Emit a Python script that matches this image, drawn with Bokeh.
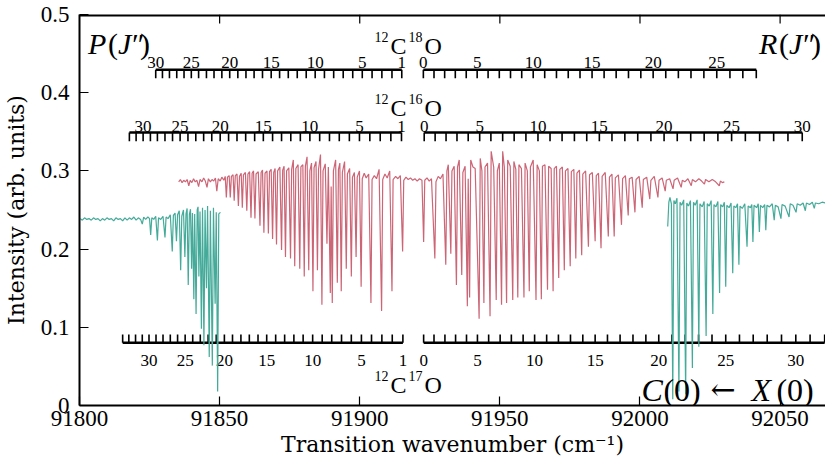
from bokeh.plotting import figure
from bokeh.models import FixedTicker, NumeralTickFormatter, Label
from bokeh.core.properties import value
from bokeh.embed import file_html
from bokeh.resources import INLINE

# ---------------- data ----------------
x_ticks = [91800, 91850, 91900, 91950, 92000, 92050]
y_ticks = [0, 0.1, 0.2, 0.3, 0.4, 0.5]
x_lo, x_hi = 91800, 92066.2
y_lo, y_hi = 0, 0.5

# red spectrum (12C16O / 12C18O sample): (wavenumber, intensity) vertices
red_p_side = [
    (91835.4, 0.286), (91836.0, 0.289), (91836.6, 0.285), (91837.2, 0.288), (91837.8, 0.286), (91838.4, 0.289),
    (91839.0, 0.281), (91839.5, 0.288), (91840.1, 0.285), (91840.7, 0.290), (91841.3, 0.286), (91841.9, 0.288),
    (91842.5, 0.280), (91843.0, 0.289), (91843.7, 0.286), (91844.3, 0.291), (91844.9, 0.287),
    (91845.5, 0.279), (91846.0, 0.290), (91846.7, 0.286), (91847.3, 0.289), (91847.9, 0.287), (91848.5, 0.291),
    (91849.0, 0.274), (91849.5, 0.290), (91850.2, 0.287), (91850.8, 0.292), (91851.5, 0.288), (91852.0, 0.293),
    (91852.4, 0.266), (91852.8, 0.292), (91853.4, 0.294),
    (91853.8, 0.266), (91854.2, 0.293), (91854.8, 0.295),
    (91855.2, 0.262), (91855.6, 0.294), (91856.2, 0.296),
    (91856.7, 0.255), (91857.1, 0.293), (91857.7, 0.297),
    (91858.1, 0.253), (91858.5, 0.295), (91859.2, 0.298),
    (91859.7, 0.249), (91860.1, 0.296), (91860.7, 0.299),
    (91861.2, 0.240), (91861.6, 0.297), (91862.1, 0.300),
    (91862.6, 0.239), (91863.0, 0.296), (91863.8, 0.299),
    (91864.4, 0.230), (91864.8, 0.298), (91865.3, 0.301),
    (91865.8, 0.221), (91866.2, 0.297), (91866.9, 0.300),
    (91867.4, 0.220), (91867.8, 0.299), (91868.4, 0.302),
    (91868.9, 0.213), (91869.3, 0.298), (91869.8, 0.303),
    (91870.3, 0.206), (91870.7, 0.300), (91871.5, 0.305),
    (91872.1, 0.199), (91872.5, 0.301), (91873.0, 0.306),
    (91873.5, 0.190), (91873.9, 0.300), (91874.7, 0.304),
    (91875.3, 0.188), (91875.7, 0.302), (91876.3, 0.314),
    (91876.8, 0.178), (91877.2, 0.303), (91878.0, 0.308),
    (91878.6, 0.175), (91879.0, 0.305), (91879.7, 0.308),
    (91880.2, 0.165), (91880.6, 0.306), (91881.2, 0.318),
    (91881.8, 0.173), (91882.2, 0.300), (91882.8, 0.310),
    (91883.3, 0.146), (91883.7, 0.304), (91884.4, 0.312),
    (91884.9, 0.173), (91885.3, 0.302), (91886.0, 0.321),
    (91886.5, 0.129), (91886.9, 0.300), (91887.7, 0.309),
    (91888.3, 0.207), (91888.8, 0.305),
    (91889.5, 0.144), (91889.8, 0.280),
    (91890.2, 0.131), (91890.6, 0.300), (91891.4, 0.314),
    (91892.0, 0.157), (91892.4, 0.302), (91892.9, 0.310),
    (91893.4, 0.146), (91893.8, 0.298), (91894.6, 0.312),
    (91895.2, 0.175), (91895.6, 0.296), (91896.4, 0.303),
    (91897.0, 0.165), (91897.4, 0.292), (91898.1, 0.298),
    (91898.7, 0.190), (91899.1, 0.292), (91899.9, 0.300),
    (91900.5, 0.152), (91900.9, 0.290), (91901.6, 0.297), (91902.3, 0.291), (91903.2, 0.296),
    (91904.0, 0.131), (91904.4, 0.289), (91905.2, 0.294), (91906.0, 0.290), (91906.9, 0.302),
    (91907.8, 0.121), (91908.2, 0.289), (91909.0, 0.296), (91909.8, 0.291), (91910.7, 0.300),
    (91911.5, 0.146), (91911.9, 0.289), (91912.8, 0.293), (91913.6, 0.290), (91914.5, 0.294),
    (91915.3, 0.197), (91915.7, 0.288), (91916.5, 0.292), (91917.3, 0.289), (91918.1, 0.291),
    (91918.9, 0.288), (91919.7, 0.290), (91920.5, 0.287), (91921.3, 0.290), (91922.2, 0.288),
]
red_r_side = [
    (91922.8, 0.209), (91923.2, 0.288), (91924.0, 0.291), (91924.8, 0.287), (91925.6, 0.290),
    (91926.8, 0.188), (91927.2, 0.286), (91928.0, 0.293), (91928.8, 0.290), (91929.7, 0.296),
    (91930.7, 0.180), (91931.1, 0.300), (91931.6, 0.308),
    (91932.5, 0.194), (91932.9, 0.300), (91933.7, 0.306),
    (91934.5, 0.154), (91934.9, 0.305), (91935.5, 0.314),
    (91936.4, 0.167), (91936.8, 0.298), (91937.6, 0.306),
    (91938.4, 0.127), (91938.7, 0.290),
    (91939.2, 0.138), (91939.6, 0.314), (91940.4, 0.305), (91941.2, 0.303),
    (91942.6, 0.111), (91943.0, 0.316), (91943.6, 0.300),
    (91944.3, 0.131), (91944.7, 0.305), (91945.6, 0.310),
    (91946.5, 0.114), (91946.9, 0.325), (91947.8, 0.305),
    (91948.7, 0.135), (91949.1, 0.300), (91949.8, 0.310),
    (91950.6, 0.129), (91951.0, 0.325), (91951.6, 0.305),
    (91952.4, 0.131), (91952.8, 0.314), (91953.7, 0.306),
    (91954.6, 0.135), (91955.0, 0.312), (91955.7, 0.302),
    (91956.4, 0.138), (91956.8, 0.308), (91957.7, 0.303),
    (91958.6, 0.138), (91959.0, 0.310), (91959.8, 0.300),
    (91960.5, 0.146), (91960.9, 0.305), (91961.9, 0.314),
    (91962.9, 0.135), (91963.3, 0.308), (91964.1, 0.300),
    (91964.8, 0.136), (91965.2, 0.306), (91966.1, 0.308),
    (91967.0, 0.148), (91967.4, 0.306), (91968.3, 0.303),
    (91969.0, 0.146), (91969.4, 0.303), (91970.2, 0.306),
    (91971.0, 0.163), (91971.4, 0.302), (91972.3, 0.305),
    (91973.0, 0.173), (91973.4, 0.300), (91974.3, 0.303),
    (91975.1, 0.178), (91975.5, 0.299), (91976.4, 0.302),
    (91977.1, 0.188), (91977.5, 0.297), (91978.4, 0.301),
    (91979.2, 0.192), (91979.6, 0.296), (91980.6, 0.300),
    (91981.6, 0.203), (91982.0, 0.295), (91983.0, 0.298),
    (91984.0, 0.210), (91984.4, 0.294), (91985.2, 0.297),
    (91986.1, 0.201), (91986.5, 0.293), (91987.6, 0.298),
    (91988.7, 0.216), (91989.1, 0.292), (91990.0, 0.296),
    (91990.8, 0.216), (91991.2, 0.291), (91992.3, 0.295),
    (91993.4, 0.231), (91993.8, 0.290), (91994.8, 0.294),
    (91995.8, 0.243), (91996.2, 0.290), (91997.2, 0.292),
    (91998.2, 0.247), (91998.6, 0.289), (91999.7, 0.293),
    (92000.8, 0.253), (92001.2, 0.289), (92002.4, 0.292),
    (92003.5, 0.264), (92003.9, 0.288), (92005.1, 0.293),
    (92006.4, 0.266), (92006.8, 0.288), (92007.9, 0.291),
    (92009.0, 0.274), (92009.4, 0.288), (92010.6, 0.290),
    (92011.8, 0.277), (92012.2, 0.288), (92013.4, 0.291),
    (92014.7, 0.279), (92015.1, 0.288), (92016.0, 0.286), (92017.1, 0.290),
    (92018.3, 0.281), (92018.7, 0.289), (92019.8, 0.286), (92021.0, 0.290), (92022.0, 0.287),
    (92023.0, 0.283), (92023.4, 0.289), (92024.6, 0.286), (92025.8, 0.289), (92027.0, 0.286),
    (92028.3, 0.281), (92028.7, 0.287), (92029.4, 0.285), (92030.1, 0.286),
]

# green spectrum (12C17O sample)
green_p_side = [
    (91800.3, 0.239), (91801.0, 0.237), (91801.8, 0.240), (91802.6, 0.238), (91803.4, 0.239), (91804.2, 0.237),
    (91805.0, 0.240), (91805.8, 0.238), (91806.6, 0.239), (91807.4, 0.236), (91808.2, 0.239), (91809.0, 0.237),
    (91809.8, 0.240), (91810.6, 0.238), (91811.4, 0.239), (91812.2, 0.236), (91813.0, 0.240), (91813.8, 0.238),
    (91814.6, 0.239), (91815.4, 0.236), (91816.2, 0.240), (91817.0, 0.237), (91817.8, 0.240), (91818.6, 0.238),
    (91819.4, 0.241), (91820.2, 0.237), (91821.0, 0.240), (91821.8, 0.238), (91822.4, 0.232), (91822.9, 0.241),
    (91823.6, 0.238), (91824.4, 0.241), (91825.0, 0.239),
    (91825.4, 0.218), (91825.8, 0.240), (91826.5, 0.238), (91827.2, 0.242),
    (91827.8, 0.211), (91828.2, 0.240), (91829.0, 0.238), (91829.8, 0.242),
    (91830.5, 0.215), (91830.9, 0.241), (91831.6, 0.239), (91832.4, 0.244),
    (91833.1, 0.197), (91833.5, 0.243), (91834.1, 0.246),
    (91834.6, 0.210), (91835.0, 0.244), (91835.6, 0.249),
    (91836.1, 0.173), (91836.5, 0.242), (91837.1, 0.250),
    (91837.6, 0.190), (91838.0, 0.245), (91838.4, 0.252),
    (91838.8, 0.154), (91839.2, 0.244), (91839.6, 0.251),
    (91840.0, 0.175), (91840.3, 0.246),
    (91840.8, 0.136), (91841.1, 0.245),
    (91841.6, 0.117), (91842.0, 0.250), (91842.3, 0.254),
    (91842.6, 0.165), (91843.0, 0.248),
    (91843.5, 0.098), (91843.9, 0.253),
    (91844.4, 0.077), (91844.8, 0.250),
    (91845.3, 0.150), (91845.7, 0.255),
    (91846.3, 0.062), (91846.7, 0.249),
    (91847.4, 0.051), (91847.8, 0.253),
    (91848.4, 0.130), (91848.8, 0.247),
    (91849.3, 0.018), (91849.7, 0.245), (91850.3, 0.247),
]
green_r_side = [
    (92009.9, 0.229), (92010.3, 0.260), (92010.7, 0.266), (92011.2, 0.258),
    (92011.7, 0.008), (92012.1, 0.262), (92012.6, 0.258), (92013.2, 0.265),
    (92013.9, 0.018), (92014.3, 0.260), (92014.9, 0.256), (92015.6, 0.263),
    (92016.3, 0.014), (92016.7, 0.259), (92017.3, 0.255), (92018.0, 0.262),
    (92018.7, 0.048), (92019.1, 0.260), (92019.7, 0.256), (92020.4, 0.263),
    (92021.0, 0.075), (92021.4, 0.258), (92022.2, 0.254), (92022.9, 0.261),
    (92023.6, 0.089), (92024.0, 0.258), (92024.7, 0.255), (92025.4, 0.262),
    (92026.0, 0.117), (92026.4, 0.257), (92027.1, 0.254), (92027.8, 0.261),
    (92028.4, 0.144), (92028.8, 0.257), (92029.5, 0.254), (92030.1, 0.260),
    (92030.6, 0.152), (92031.0, 0.256), (92031.8, 0.253), (92032.5, 0.259),
    (92033.1, 0.169), (92033.5, 0.255), (92034.2, 0.253), (92034.8, 0.258),
    (92035.3, 0.180), (92035.7, 0.255), (92036.5, 0.252), (92037.4, 0.258),
    (92038.2, 0.203), (92038.6, 0.255), (92039.4, 0.253), (92039.9, 0.257),
    (92040.3, 0.209), (92040.7, 0.256), (92041.6, 0.253), (92042.2, 0.258),
    (92042.6, 0.222), (92043.0, 0.256), (92043.8, 0.253), (92044.5, 0.257),
    (92044.9, 0.224), (92045.3, 0.256), (92046.2, 0.254), (92047.2, 0.258),
    (92047.9, 0.237), (92048.3, 0.256), (92049.3, 0.254),
    (92050.3, 0.239), (92050.7, 0.257), (92051.8, 0.255),
    (92053.2, 0.241), (92053.6, 0.258), (92054.6, 0.256),
    (92055.7, 0.247), (92056.1, 0.258), (92057.2, 0.256), (92058.2, 0.259),
    (92059.0, 0.249), (92059.4, 0.259), (92060.5, 0.257), (92061.5, 0.260),
    (92062.2, 0.252), (92062.6, 0.259), (92063.8, 0.258), (92065.0, 0.260), (92066.2, 0.259),
]

# rotational line positions (cm^-1) for the assignment rulers
c18o_P = [91915.0, 91911.5, 91907.9, 91904.4, 91900.9, 91897.5, 91894.1, 91890.7, 91887.4, 91884.1,
          91880.9, 91877.7, 91874.5, 91871.4, 91868.4, 91865.3, 91862.3, 91859.4, 91856.5, 91853.6,
          91850.8, 91848.0, 91845.3, 91842.5, 91839.9, 91837.3, 91834.7, 91832.1, 91829.6, 91827.2]  # J=1..30
c18o_R = [91922.7, 91926.5, 91930.3, 91934.1, 91938.0, 91941.9, 91945.8, 91949.8, 91953.8, 91957.8,
          91961.9, 91966.0, 91970.2, 91974.4, 91978.6, 91982.9, 91987.2, 91991.5, 91995.9, 92000.3,
          92004.7, 92009.2, 92013.7, 92018.2, 92022.8, 92027.4, 92032.1, 92036.7, 92041.5]  # J=0..28
c16o_P = [91914.9, 91911.1, 91907.3, 91903.6, 91899.9, 91896.3, 91892.7, 91889.2, 91885.7, 91882.2,
          91878.8, 91875.4, 91872.1, 91868.9, 91865.6, 91862.5, 91859.3, 91856.2, 91853.2, 91850.2,
          91847.2, 91844.3, 91841.5, 91838.7, 91835.9, 91833.2, 91830.5, 91827.8, 91825.3, 91822.7,
          91820.2, 91817.8]  # J=1..32
c16o_R = [91923.0, 91926.9, 91930.8, 91934.7, 91938.7, 91942.8, 91946.8, 91951.0, 91955.1, 91959.3,
          91963.6, 91967.9, 91972.2, 91976.6, 91981.0, 91985.5, 91990.0, 91994.6, 91999.2, 92003.9,
          92008.6, 92013.3, 92018.1, 92022.9, 92027.8, 92032.7, 92037.6, 92042.7, 92047.7, 92052.8,
          92057.9]  # J=0..30
c17o_P = [91915.4, 91911.6, 91907.9, 91904.2, 91900.6, 91897.0, 91893.5, 91890.0, 91886.6, 91883.2,
          91879.8, 91876.5, 91873.2, 91870.0, 91866.8, 91863.7, 91860.6, 91857.6, 91854.6, 91851.7,
          91848.8, 91845.9, 91843.1, 91840.4, 91837.7, 91835.0, 91832.4, 91829.8, 91827.3, 91824.8,
          91822.4, 91820.0, 91817.6, 91815.4]  # J=1..34
c17o_R = [91922.8, 91926.5, 91930.4, 91934.2, 91938.1, 91942.0, 91946.0, 91950.1, 91954.1, 91958.3,
          91962.4, 91966.7, 91970.9, 91975.2, 91979.6, 91984.0, 91988.4, 91992.9, 91997.5, 92002.1,
          92006.7, 92011.4, 92016.1, 92020.9, 92025.7, 92030.6, 92035.5, 92040.4, 92045.4, 92050.5,
          92055.6, 92060.7, 92065.9]  # J=0..32

p_labels = [30, 25, 20, 15, 10, 5, 1]
r_labels_18 = [0, 5, 10, 15, 20, 25]
r_labels = [0, 5, 10, 15, 20, 25, 30]

# ---------------- figure ----------------
RED = "#CC6677"
GREEN = "#44AA99"
NUM_FONT = "Liberation Serif"
WORD_FONT = "DejaVu Serif"
FRAME_H = 386  # approximate frame height in px, used for tick length in data units

p = figure(width=825, height=459, x_range=(x_lo, x_hi), y_range=(y_lo, y_hi),
           output_backend="svg", toolbar_location=None,
           min_border_left=75, min_border_right=0, min_border_top=14, min_border_bottom=0)
p.outline_line_color = None
p.xgrid.visible = False
p.ygrid.visible = False
p.background_fill_color = "white"
p.border_fill_color = "white"

for ax in (p.xaxis[0], p.yaxis[0]):
    ax.major_tick_in = 9
    ax.major_tick_out = 0
    ax.minor_tick_line_color = None
    ax.axis_line_width = 2
    ax.major_tick_line_width = 1.2
    ax.major_label_text_font = NUM_FONT
    ax.major_label_text_font_size = "23px"
    ax.major_label_text_color = "black"
    ax.axis_label_text_font = WORD_FONT
    ax.axis_label_text_font_size = "22px"
    ax.axis_label_text_font_style = "normal"
    ax.axis_label_text_color = "black"

p.xaxis.ticker = FixedTicker(ticks=x_ticks)
p.xaxis.formatter = NumeralTickFormatter(format="0")
p.xaxis.major_label_standoff = 5
p.xaxis.axis_label = "Transition wavenumber (cm\u207b\u00b9)"
p.xaxis.axis_label_standoff = 3

p.yaxis.ticker = FixedTicker(ticks=y_ticks)
p.yaxis.formatter = NumeralTickFormatter(format="0.[0]")
p.yaxis.major_label_standoff = 10
p.yaxis.axis_label = "Intensity (arb. units)"
p.yaxis.axis_label_standoff = 9

# top spine with inward ticks (drawn as glyphs, clipped to the frame)
tick_len = (y_hi - y_lo) * 9 / FRAME_H
p.line([x_lo, x_hi], [y_hi, y_hi], line_color="black", line_width=4)
top_ticks = [t for t in x_ticks if t > x_lo]
p.segment(x0=top_ticks, y0=[y_hi] * len(top_ticks), x1=top_ticks,
          y1=[y_hi - tick_len] * len(top_ticks), line_color="black", line_width=1.2)


def ruler(plist, rlist, y_line, y_tick, y_text, plabs, rlabs):
    for ticks in (plist, rlist):
        p.segment(x0=[min(ticks)], y0=[y_line], x1=[max(ticks)], y1=[y_line],
                  line_color="black", line_width=2.5)
        p.segment(x0=ticks, y0=[y_line] * len(ticks), x1=ticks, y1=[y_tick] * len(ticks),
                  line_color="black", line_width=1.6)
    xs = [plist[j - 1] for j in plabs] + [rlist[j] for j in rlabs]
    txt = [str(j) for j in plabs] + [str(j) for j in rlabs]
    p.text(x=xs, y=[y_text] * len(xs), text=txt, text_font=value(NUM_FONT),
           text_font_size="17px", text_align="center", text_baseline="alphabetic",
           text_color="black")


ruler(c18o_P, c18o_R, 0.4293, 0.4186, 0.4388, p_labels, r_labels_18)
ruler(c16o_P, c16o_R, 0.3491, 0.3378, 0.3567, p_labels, r_labels)
ruler(c17o_P, c17o_R, 0.0802, 0.0909, 0.0581, p_labels, r_labels)

red = red_p_side + red_r_side
p.line([a for a, b in red], [b for a, b in red], line_color=RED, line_width=1.2)
for seg in (green_p_side, green_r_side):
    p.line([a for a, b in seg], [b for a, b in seg], line_color=GREEN, line_width=1.2)


def put(text, x, y, size, dx=0, dy=0, italic=False, font=NUM_FONT):
    p.add_layout(Label(x=x, y=y, x_offset=dx, y_offset=dy, text=text, text_font=font,
                       text_font_size=f"{size}px",
                       text_font_style="italic" if italic else "normal",
                       text_align="left", text_baseline="alphabetic", text_color="black"))


def isotope(mass_o, y):
    x = 91905.3
    put("12", x, y, 14, dx=0, dy=9)
    put("C", x, y, 24, dx=16)
    put(mass_o, x, y, 14, dx=34, dy=9)
    put("O", x, y, 24, dx=50)


isotope("18", 0.4596)
isotope("16", 0.3801)
isotope("17", 0.0265)

# branch labels
for (x0, lead) in ((91803.0, "P"), (92042.5, "R")):
    y0 = 0.4635
    put(lead, x0, y0, 30, dx=0, italic=True)
    put("(", x0, y0, 30, dx=20)
    put("J", x0, y0, 30, dx=30, italic=True)
    put("\u2033", x0, y0, 30, dx=44)
    put(")", x0, y0, 30, dx=52)

# band label
xb, yb = 92000.5, 0.0202
put("C", xb, yb, 32, dx=0, italic=True)
put("(0)", xb, yb, 32, dx=22)
put("\u2190", xb, yb, 30, dx=69, font=WORD_FONT)
put("X", xb, yb, 32, dx=110, italic=True)
put("(0)", xb, yb, 32, dx=135)

open("out.html", "w").write(file_html(p, INLINE))
